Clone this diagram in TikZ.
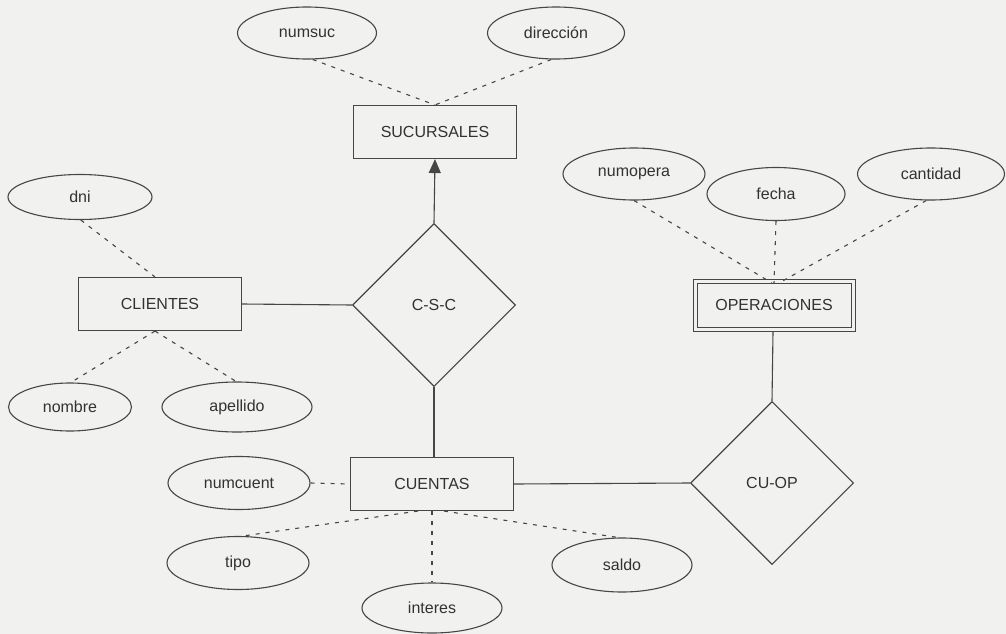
\documentclass[tikz,border=0pt]{standalone}
\usepackage{fontspec}
\setmainfont{Liberation Sans}
\usetikzlibrary{shapes.geometric,arrows.meta}
\definecolor{paper}{RGB}{241,241,240}
\definecolor{ink}{RGB}{70,70,70}
\definecolor{txt}{RGB}{50,50,50}
\begin{document}
\begin{tikzpicture}[x=1pt,y=-1pt,
  every node/.style={font=\fontsize{16}{18}\selectfont,text=txt,inner sep=0pt},
  entity/.style={draw=ink,line width=1.1pt,minimum width=163pt,minimum height=53pt},
  weakentity/.style={draw=ink,line width=1pt,double=paper,double distance=3pt,minimum width=158pt,minimum height=48pt},
  attr/.style={ellipse,draw=ink,line width=1.1pt,minimum width=141pt,minimum height=51pt},
  rel/.style={diamond,draw=ink,line width=1.1pt,minimum width=163pt,minimum height=163pt},
  link/.style={draw=ink,line width=1.1pt},
  attrlink/.style={draw=ink,line width=1.1pt,dash pattern=on 4pt off 6pt}]
\fill[paper] (0,0) rectangle (1006,634);
\useasboundingbox (0,0) rectangle (1006,634);

% entities
\node[entity] (suc) at (435,132) {SUCURSALES};
\node[entity] (cli) at (160,304) {CLIENTES};
\node[entity] (cue) at (432,484) {CUENTAS};
\node[weakentity] (ope) at (774,305) {OPERACIONES};

% relationships
\node[rel] (csc) at (434,305) {C-S-C};
\node[rel] (cuop) at (772,483) {CU-OP};

% attributes
\node[attr,minimum width=139pt,minimum height=52pt] (numsuc) at (307,33) {numsuc};
\node[attr,minimum width=137pt,minimum height=52pt] (dir) at (556,33) {dirección};
\node[attr,minimum width=144pt,minimum height=45pt] (dni) at (80,197) {dni};
\node[attr,minimum width=123pt,minimum height=48pt] (nom) at (70,407) {nombre};
\node[attr,minimum width=150pt,minimum height=50pt] (ape) at (237,407) {apellido};
\node[attr,minimum width=142pt,minimum height=53pt] (ncu) at (239,483) {numcuent};
\node[attr,minimum width=142pt,minimum height=53pt] (tipo) at (238,563) {tipo};
\node[attr,minimum width=140pt,minimum height=50pt] (int) at (432,608) {interes};
\node[attr,minimum width=140pt,minimum height=54pt] (sal) at (622,565) {saldo};
\node[attr,minimum width=142pt,minimum height=52pt] (nop) at (634,174) {numopera};
\node[attr,minimum width=138pt,minimum height=53pt] (fec) at (776,194) {fecha};
\node[attr,minimum width=147pt,minimum height=52pt] (can) at (931,174) {cantidad};

% relationship links
\draw[link,-{Triangle[length=14pt,width=12pt]}] (csc.north) -- (suc.south);
\draw[link] (cli.east) -- (csc.west);
\draw[link] (csc.south) -- (cue.north -| csc.south);
\draw[link] (cue.east) -- (cuop.west);
\draw[link] (ope.south) ++(-1,2.5) coordinate (opes) -- (cuop.north);

% attribute links
\draw[attrlink] (numsuc.-78) -- (suc.north);
\draw[attrlink] (dir.-100) -- (suc.north);
\draw[attrlink] (dni.-88) -- ([xshift=-5pt]cli.north);
\draw[attrlink] ([xshift=-5pt]cli.south) -- (nom.88);
\draw[attrlink] ([xshift=-5pt]cli.south) -- (ape.92);
\draw[attrlink] (ncu.east) -- (cue.west);
\draw[attrlink] ([xshift=-14pt]cue.south) -- (tipo.80);
\draw[attrlink] (cue.south) -- (int.north);
\draw[attrlink] ([xshift=12pt]cue.south) -- (sal.98);
\draw[attrlink] (nop.-90) -- ([xshift=-2pt,yshift=-2.5pt]ope.north);
\draw[attrlink] (fec.south) -- ([yshift=-2.5pt]ope.north);
\draw[attrlink] (can.-100) -- ([xshift=5pt,yshift=-2.5pt]ope.north);
\end{tikzpicture}
\end{document}
